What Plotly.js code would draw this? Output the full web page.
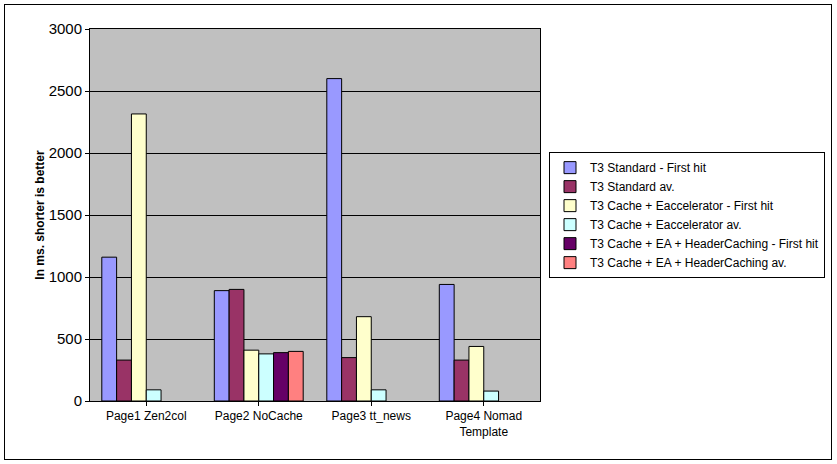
<!DOCTYPE html>
<html><head><script src="https://cdn.plot.ly/plotly-3.0.1.min.js"></script>
<style>body{margin:0;background:#fff}#b{position:absolute;left:4px;top:4px;width:826px;height:454px;border:1px solid #000;pointer-events:none}</style>
</head><body><div id="p" style="width:837px;height:464px"></div><div id="b"></div>
<script>
const categories=["Page1 Zen2col","Page2 NoCache","Page3 tt_news","Page4 Nomad<br>Template"];
const seriesNames=["T3 Standard - First hit","T3 Standard av.","T3 Cache + Eaccelerator - First hit","T3 Cache + Eaccelerator av.","T3 Cache + EA + HeaderCaching - First hit","T3 Cache + EA + HeaderCaching av."];
const stdFirst=[1160,890,2600,940];
const stdAv=[330,900,350,330];
const eaFirst=[2315,410,680,440];
const eaAv=[90,380,90,80];
const hcFirst=[null,390,null,null];
const hcAv=[null,400,null,null];
const colors=["#9999FF","#993366","#FFFFCC","#CCFFFF","#660066","#FF8080"];
const vals=[stdFirst,stdAv,eaFirst,eaAv,hcFirst,hcAv];
const data=vals.map((v,i)=>({type:"bar",x:categories,y:v,name:seriesNames[i],marker:{color:colors[i],line:{color:"#000",width:1}}}));
Plotly.newPlot("p",data,{
 width:837,height:464,margin:{l:90,r:289,t:29,b:63},
 paper_bgcolor:"#fff",plot_bgcolor:"#C0C0C0",
 font:{family:"Liberation Sans, Arial",size:12,color:"#000"},
 bargap:0.21,bargroupgap:0,barmode:"group",
 xaxis:{showline:true,linecolor:"#000",mirror:true,ticks:"outside",tickcolor:"#000",ticklen:4},
 yaxis:{range:[0,3000],dtick:500,showline:true,linecolor:"#000",mirror:true,gridcolor:"#000",ticks:"outside",tickcolor:"#000",ticklen:4,tickfont:{size:15},
  title:{text:"<b>In ms. shorter is better</b>",font:{size:12}}},
 legend:{x:1.02,y:0.669,yanchor:"top",xanchor:"left",bgcolor:"#fff",bordercolor:"#000",borderwidth:1,font:{size:12},tracegroupgap:0},
 showlegend:true
},{displayModeBar:false,staticPlot:true});
</script></body></html>
